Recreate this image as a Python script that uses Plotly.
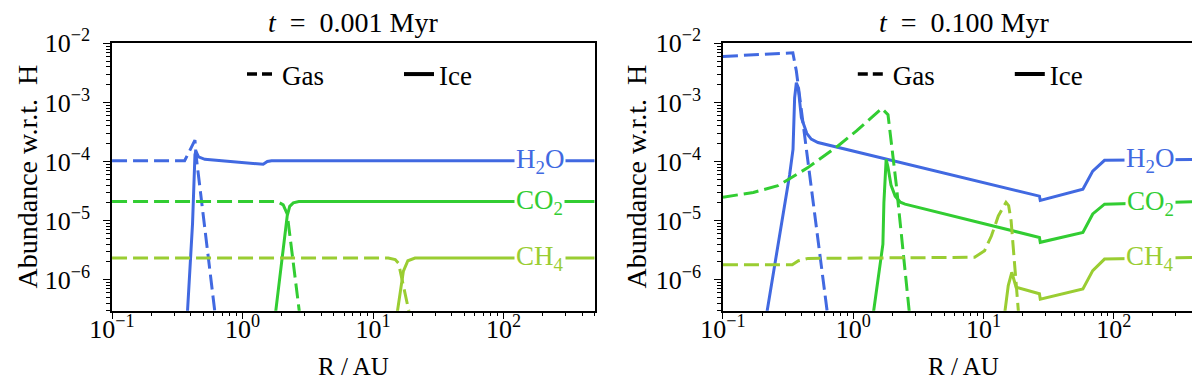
import numpy as np
import plotly.graph_objects as go

# ---------------- data ----------------
# Panel 1 : t = 0.001 Myr
p1_h2o_gas_r = [0.1, 0.36, 0.432, 0.44, 0.61, 0.625]
p1_h2o_gas_a = [1.03e-4, 1.03e-4, 2.3e-4, 1.3e-4, 3.2e-7, 2e-7]
p1_h2o_ice_r = [0.375, 0.414, 0.432, 0.439, 0.46, 0.514, 1.44, 1.55, 1.67, 500]
p1_h2o_ice_a = [2e-7, 9e-6, 1.3e-4, 1.5e-4, 1.2e-4, 1.09e-4, 9.0e-5, 1.0e-4, 1.03e-4, 1.03e-4]
p1_co2_gas_r = [0.1, 1.85, 2.05, 2.2, 2.72, 2.76]
p1_co2_gas_a = [2.1e-5, 2.1e-5, 1.85e-5, 1.3e-5, 3e-7, 2e-7]
p1_co2_ice_r = [1.76, 2.2, 2.3, 2.45, 2.7, 500]
p1_co2_ice_a = [2e-7, 1.2e-5, 1.75e-5, 2.0e-5, 2.1e-5, 2.1e-5]
p1_ch4_gas_r = [0.1, 13.1, 14.8, 15.7, 18.8, 19.3]
p1_ch4_gas_a = [2.33e-6, 2.33e-6, 2.2e-6, 1.9e-6, 3e-7, 2e-7]
p1_ch4_ice_r = [15.0, 16.0, 17.1, 18.5, 21, 500]
p1_ch4_ice_a = [2e-7, 5.5e-7, 1.4e-6, 2.1e-6, 2.33e-6, 2.33e-6]

# Panel 2 : t = 0.100 Myr
p2_h2o_gas_r = [0.1, 0.2, 0.344, 0.366, 0.449, 0.63, 0.645]
p2_h2o_gas_a = [6.0e-3, 6.5e-3, 6.9e-3, 3.4e-3, 1.0e-4, 3.5e-7, 2e-7]
p2_h2o_ice_r = [0.212, 0.325, 0.345, 0.355, 0.366, 0.378, 0.40, 0.44, 0.476, 0.536,
                26.9, 27.3, 58, 69, 85, 440, 500]
p2_h2o_ice_a = [2e-7, 6e-5, 1.6e-4, 1.2e-3, 2.15e-3, 1.8e-3, 5.5e-4, 3e-4, 2.4e-4, 2.1e-4,
                2.6e-5, 2.2e-5, 3.4e-5, 6.9e-5, 1.05e-4, 1.09e-4, 1.3e-5]
p2_co2_gas_r = [0.1, 0.171, 0.264, 0.449, 0.763, 1.06, 1.66, 1.85, 2.14, 2.74]
p2_co2_gas_a = [2.5e-5, 3e-5, 3.9e-5, 7.9e-5, 1.83e-4, 3.3e-4, 7.9e-4, 6.2e-4, 4.1e-5, 2e-7]
p2_co2_ice_r = [1.40, 1.69, 1.72, 1.79, 1.85, 1.95, 2.1, 2.3, 2.5,
                26.9, 27.3, 58, 69, 85, 440, 500]
p2_co2_ice_a = [2e-7, 4e-6, 2e-5, 1.09e-4, 8e-5, 4e-5, 2.6e-5, 2.05e-5, 1.9e-5,
                5.2e-6, 4.3e-6, 6.3e-6, 1.3e-5, 1.9e-5, 2.1e-5, 2.7e-6]
p2_ch4_gas_r = [0.1, 0.34, 0.38, 0.45, 8.55, 10.2, 11.5, 13.0, 14.9, 15.6, 16.3, 18.4, 18.8]
p2_ch4_gas_a = [1.8e-6, 1.8e-6, 2.1e-6, 2.3e-6, 2.4e-6, 3.1e-6, 5.5e-6, 1.2e-5, 2.04e-5,
                1.8e-5, 1e-5, 3.5e-7, 2e-7]
p2_ch4_ice_r = [14.3, 15.5, 16.5, 17.8, 26.9, 27.3, 58, 69, 85, 440, 500]
p2_ch4_ice_a = [2e-7, 8e-7, 1.34e-6, 7.5e-7, 5.8e-7, 4.7e-7, 7e-7, 1.43e-6, 2.24e-6, 2.4e-6, 1e-7]

panel_titles = ["<i>t</i>&nbsp; = &nbsp;0.001&nbsp;Myr", "<i>t</i>&nbsp; = &nbsp;0.100&nbsp;Myr"]
x_title = "R / AU"
y_title = "Abundance w.r.t.  H"
species = ["H<sub>2</sub>O", "CO<sub>2</sub>", "CH<sub>4</sub>"]
colors = ["#4169E1", "#32CD32", "#9ACD32"]
x_tick_vals = [0.1, 1, 10, 100]
x_tick_text = ["10<sup>−1</sup>", "10<sup>0</sup>", "10<sup>1</sup>", "10<sup>2</sup>"]
y_tick_vals = [1e-6, 1e-5, 1e-4, 1e-3, 1e-2]
y_tick_text = ["10<sup>−6</sup>", "10<sup>−5</sup>", "10<sup>−4</sup>", "10<sup>−3</sup>", "10<sup>−2</sup>"]
x_lim = [0.1, 500]
y_lim = [3e-7, 1e-2]
label_r = 190

panels = [
    [(p1_h2o_gas_r, p1_h2o_gas_a, p1_h2o_ice_r, p1_h2o_ice_a),
     (p1_co2_gas_r, p1_co2_gas_a, p1_co2_ice_r, p1_co2_ice_a),
     (p1_ch4_gas_r, p1_ch4_gas_a, p1_ch4_ice_r, p1_ch4_ice_a)],
    [(p2_h2o_gas_r, p2_h2o_gas_a, p2_h2o_ice_r, p2_h2o_ice_a),
     (p2_co2_gas_r, p2_co2_gas_a, p2_co2_ice_r, p2_co2_ice_a),
     (p2_ch4_gas_r, p2_ch4_gas_a, p2_ch4_ice_r, p2_ch4_ice_a)],
]

FONT = "Liberation Serif"
DASH = "15px,6px"
LW = 3

fig = go.Figure()
x_domains = [[0.0867, 0.4889], [0.5958, 0.9973]]
y_domain = [0.1992, 0.9066]

minor_x = [m * 10.0 ** k for k in range(-1, 3) for m in range(2, 10) if m * 10.0 ** k <= 500]
minor_y = [m * 10.0 ** k for k in range(-7, -2) for m in range(2, 10) if 3e-7 <= m * 10.0 ** k <= 1e-2]

for p, panel in enumerate(panels):
    xa = "x" if p == 0 else "x2"
    ya = "y" if p == 0 else "y2"
    leg = "legend" if p == 0 else "legend2"
    for (gr, ga, ir, ia), col, name in zip(panel, colors, species):
        fig.add_trace(go.Scatter(x=gr, y=ga, mode="lines", xaxis=xa, yaxis=ya,
                                 line=dict(color=col, width=LW, dash=DASH),
                                 showlegend=False, hoverinfo="skip"))
        fig.add_trace(go.Scatter(x=ir, y=ia, mode="lines", xaxis=xa, yaxis=ya,
                                 line=dict(color=col, width=LW),
                                 showlegend=False, hoverinfo="skip"))
        # inline label on the ice curve
        lv = np.interp(np.log10(label_r), np.log10(ir), np.log10(ia))
        fig.add_annotation(x=np.log10(label_r), y=lv, xref=xa, yref=ya, text=name,
                           showarrow=False, bgcolor="white", borderpad=1,
                           font=dict(family=FONT, size=27, color=col))
    # legend entries
    fig.add_trace(go.Scatter(x=[None], y=[None], mode="lines", xaxis=xa, yaxis=ya,
                             line=dict(color="black", width=3.5, dash="10px,5px"),
                             name="Gas", legend=leg))
    fig.add_trace(go.Scatter(x=[None], y=[None], mode="lines", xaxis=xa, yaxis=ya,
                             line=dict(color="black", width=4),
                             name="Ice", legend=leg))
    # panel title
    fig.add_annotation(x=0.5, y=(378 - 15) / 378, xref=f"{xa} domain", yref="paper",
                       text=panel_titles[p], showarrow=False, yanchor="middle",
                       font=dict(family=FONT, size=28, color="black"))
    # axis titles
    fig.add_annotation(x=0.5, y=(378 - 358) / 378, xref=f"{xa} domain", yref="paper",
                       text=x_title, showarrow=False, yanchor="middle",
                       font=dict(family=FONT, size=25, color="black"))
    fig.add_annotation(x=(2 if p == 0 else 611) / 1200, y=0.5, xref="paper",
                       yref=f"{ya} domain", text=y_title, showarrow=False,
                       textangle=-90, xanchor="left",
                       font=dict(family=FONT, size=28, color="black"))

axis_common = dict(type="log", showline=True, linecolor="black", linewidth=1.5, mirror=True,
                   ticks="outside", ticklen=7, tickwidth=1.2, tickcolor="black",
                   showgrid=False, zeroline=False, automargin=False,
                   tickfont=dict(family=FONT, size=26, color="black"))

for p in range(2):
    sx = "" if p == 0 else "2"
    fig.update_layout({
        f"xaxis{sx}": dict(axis_common, domain=x_domains[p], anchor=f"y{sx}",
                           range=[np.log10(x_lim[0]), np.log10(x_lim[1])],
                           tickmode="array", tickvals=x_tick_vals, ticktext=x_tick_text,
                           ticklabelstandoff=-13,
                           minor=dict(tickmode="array", tickvals=minor_x, ticks="outside",
                                      ticklen=4, tickwidth=1, tickcolor="black")),
        f"yaxis{sx}": dict(axis_common, domain=y_domain, anchor=f"x{sx}",
                           range=[np.log10(y_lim[0]), np.log10(y_lim[1])],
                           tickmode="array", tickvals=y_tick_vals, ticktext=y_tick_text,
                           ticklabelstandoff=8,
                           minor=dict(tickmode="array", tickvals=minor_y, ticks="outside",
                                      ticklen=4, tickwidth=1, tickcolor="black")),
    })

leg_common = dict(orientation="h", xanchor="left", yanchor="middle", bgcolor="rgba(0,0,0,0)",
                  font=dict(family=FONT, size=27, color="black"), entrywidth=112,
                  entrywidthmode="pixels")
fig.update_layout(
    legend=dict(leg_common, x=0.195, y=0.824),
    legend2=dict(leg_common, x=0.704, y=0.824),
    width=1200, height=378, template="none",
    margin=dict(l=0, r=0, t=0, b=0),
    paper_bgcolor="white", plot_bgcolor="white",
    font=dict(family=FONT, color="black"),
)

fig.write_html("out.html")
